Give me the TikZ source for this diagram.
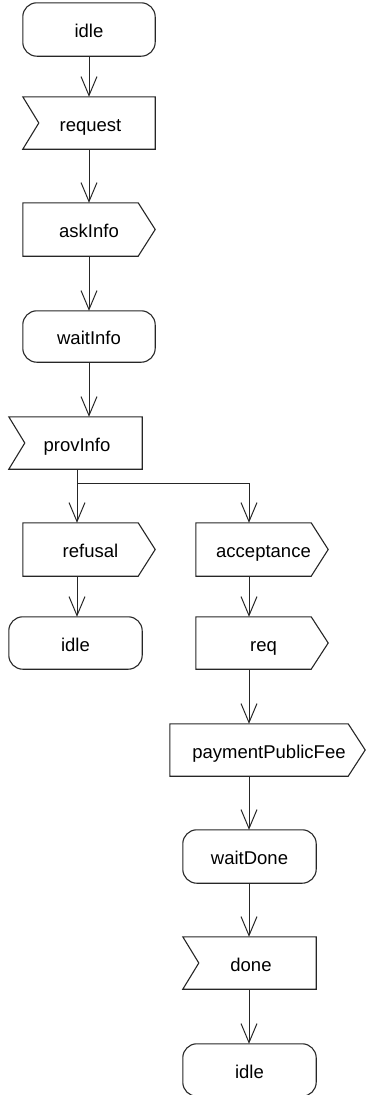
\documentclass[tikz,border=0pt]{standalone}
\usepackage{fontspec}
\setmainfont{Liberation Sans}
\usetikzlibrary{arrows.meta}
\tikzset{
  lbl/.style={inner sep=0pt, minimum height=52pt, text height=18pt, text depth=2pt, font=\fontsize{18.5}{22}\selectfont},
  outline/.style={line width=1.1pt, draw=black!85},
  arr/.style={line width=1pt, draw=black!85, -{Straight Barb[length=19pt,width=16pt,line width=1pt]}},
  plain/.style={line width=1pt, draw=black!85},
}
\newcommand\stateshape[1]{\draw[outline, rounded corners=14pt] (#1.north west) rectangle (#1.south east);}
\newcommand\sendshape[1]{\draw[outline] (#1.north west) -- ([xshift=-17pt]#1.north east) -- (#1.east) -- ([xshift=-17pt]#1.south east) -- (#1.south west) -- cycle;}
\newcommand\recvshape[1]{\draw[outline] (#1.north west) -- (#1.north east) -- (#1.south east) -- (#1.south west) -- ([xshift=16pt]#1.west) -- cycle;}
\begin{document}
\begin{tikzpicture}[x=1pt,y=-1pt]
\useasboundingbox (0,0) rectangle (367,1095);
% nodes
\node[lbl, minimum width=132pt, minimum height=53pt] (idleA) at (89,29.5) {idle};
\node[lbl, minimum width=132pt] (request) at (89,123) {\hspace{3pt}request};
\node[lbl, minimum width=132pt, minimum height=53pt] (askInfo) at (89,229.5) {askInfo};
\node[lbl, minimum width=132pt, minimum height=51pt] (waitInfo) at (89,336.5) {waitInfo};
\node[lbl, minimum width=133pt] (provInfo) at (75.5,443) {\hspace{3pt}provInfo};
\node[lbl, minimum width=132pt, minimum height=53pt] (refusal) at (89,549.5) {\hspace{3pt}refusal};
\node[lbl, minimum width=132pt, minimum height=53pt] (acceptance) at (262,549.5) {\hspace{3pt}acceptance};
\node[lbl, minimum width=133pt] (idleB) at (75.5,643) {idle};
\node[lbl, minimum width=132pt] (req) at (262,643) {\hspace{3pt}req};
\node[lbl, minimum width=195pt] (payment) at (267.5,750) {\hspace{3pt}paymentPublicFee};
\node[lbl, minimum width=133pt, minimum height=53pt] (waitDone) at (249.5,856.5) {waitDone};
\node[lbl, minimum width=133pt] (done) at (249.5,963) {\hspace{3pt}done};
\node[lbl, minimum width=133pt] (idleC) at (249.5,1070) {idle};
% shapes
\stateshape{idleA}
\recvshape{request}
\sendshape{askInfo}
\stateshape{waitInfo}
\recvshape{provInfo}
\sendshape{refusal}
\sendshape{acceptance}
\stateshape{idleB}
\sendshape{req}
\sendshape{payment}
\stateshape{waitDone}
\recvshape{done}
\stateshape{idleC}
% junction and column coordinates
\coordinate (j) at (77,483);
\coordinate (jr) at (249,483);
% connectors
\draw[arr] (idleA.south) -- (request.north);
\draw[arr] (request.south) -- (askInfo.north);
\draw[arr] (askInfo.south) -- (waitInfo.north);
\draw[arr] (waitInfo.south) -- (waitInfo.south |- provInfo.north);
\draw[plain] (provInfo.south -| j) -- (j) -- (jr);
\draw[arr] (j) -- (j |- refusal.north);
\draw[arr] (jr) -- (jr |- acceptance.north);
\draw[arr] (refusal.south -| j) -- (idleB.north -| j);
\draw[arr] (acceptance.south -| jr) -- (req.north -| jr);
\draw[arr] (req.south -| jr) -- (payment.north -| jr);
\draw[arr] (payment.south -| jr) -- (waitDone.north -| jr);
\draw[arr] (waitDone.south -| jr) -- (done.north -| jr);
\draw[arr] (done.south -| jr) -- (idleC.north -| jr);
\end{tikzpicture}
\end{document}
